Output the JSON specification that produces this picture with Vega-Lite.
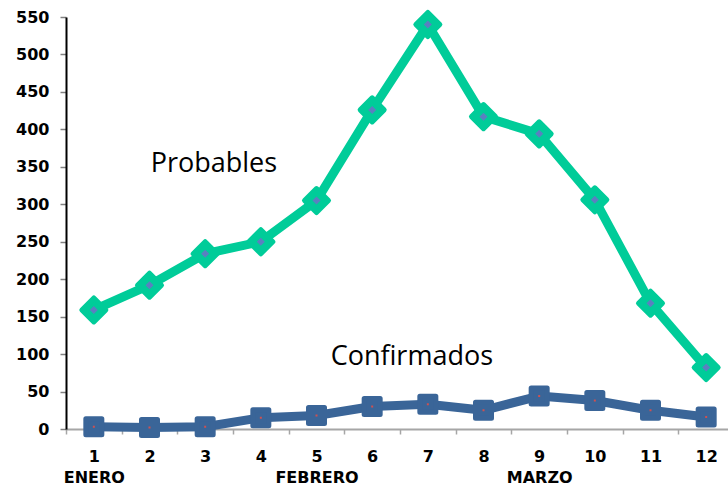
{
  "$schema": "https://vega.github.io/schema/vega-lite/v6.json",
  "width": 662,
  "height": 412,
  "autosize": "none",
  "padding": {"left": 66, "top": 17, "right": 0, "bottom": 56},
  "background": "white",
  "config": {"view": {"stroke": null}},
  "data": {
    "values": [
      {"dia": 1, "serie": "Probables", "valor": 159},
      {"dia": 2, "serie": "Probables", "valor": 192},
      {"dia": 3, "serie": "Probables", "valor": 234},
      {"dia": 4, "serie": "Probables", "valor": 250},
      {"dia": 5, "serie": "Probables", "valor": 305},
      {"dia": 6, "serie": "Probables", "valor": 426},
      {"dia": 7, "serie": "Probables", "valor": 540},
      {"dia": 8, "serie": "Probables", "valor": 417},
      {"dia": 9, "serie": "Probables", "valor": 394},
      {"dia": 10, "serie": "Probables", "valor": 306},
      {"dia": 11, "serie": "Probables", "valor": 168},
      {"dia": 12, "serie": "Probables", "valor": 82},
      {"dia": 1, "serie": "Confirmados", "valor": 3},
      {"dia": 2, "serie": "Confirmados", "valor": 2},
      {"dia": 3, "serie": "Confirmados", "valor": 3},
      {"dia": 4, "serie": "Confirmados", "valor": 15},
      {"dia": 5, "serie": "Confirmados", "valor": 18},
      {"dia": 6, "serie": "Confirmados", "valor": 30},
      {"dia": 7, "serie": "Confirmados", "valor": 33},
      {"dia": 8, "serie": "Confirmados", "valor": 25},
      {"dia": 9, "serie": "Confirmados", "valor": 44},
      {"dia": 10, "serie": "Confirmados", "valor": 38},
      {"dia": 11, "serie": "Confirmados", "valor": 25},
      {"dia": 12, "serie": "Confirmados", "valor": 16}
    ]
  },
  "encoding": {
    "x": {
      "field": "dia",
      "type": "ordinal",
      "scale": {"type": "band", "paddingInner": 0, "paddingOuter": 0, "range": [0, 668]},
      "axis": {
        "title": null,
        "labelAngle": 0,
        "tickBand": "extent",
        "domainColor": "#a6a6a6",
        "domainWidth": 2,
        "tickColor": "#a6a6a6",
        "tickWidth": 1.5,
        "tickSize": 5,
        "labelFont": "DejaVu Sans",
        "labelFontWeight": "bold",
        "labelFontSize": 16,
        "labelColor": "black",
        "labelPadding": 14,
        "labelLineHeight": 21,
        "labelExpr": "datum.value == 1 ? ['1', 'ENERO'] : datum.value == 5 ? ['5', 'FEBRERO'] : datum.value == 9 ? ['9', 'MARZO'] : datum.label"
      }
    },
    "y": {
      "field": "valor",
      "type": "quantitative",
      "scale": {"domain": [0, 550], "nice": false},
      "axis": {
        "title": null,
        "values": [0, 50, 100, 150, 200, 250, 300, 350, 400, 450, 500, 550],
        "grid": false,
        "domainColor": "black",
        "domainWidth": 2,
        "tickColor": "#808080",
        "tickWidth": 1.5,
        "tickSize": 6,
        "labelFont": "DejaVu Sans",
        "labelFontWeight": "bold",
        "labelFontSize": 16,
        "labelColor": "black",
        "labelPadding": 11
      }
    }
  },
  "layer": [
    {
      "transform": [{"filter": "datum.serie == 'Probables'"}],
      "mark": {"type": "line", "color": "#00CC99", "strokeWidth": 9, "strokeJoin": "round"}
    },
    {
      "transform": [{"filter": "datum.serie == 'Probables'"}],
      "mark": {"type": "point", "shape": "diamond", "filled": true, "size": 576, "color": "#00CC99", "stroke": "#00CC99", "strokeWidth": 5, "strokeJoin": "round", "opacity": 1}
    },
    {
      "transform": [{"filter": "datum.serie == 'Probables'"}],
      "mark": {"type": "point", "shape": "diamond", "filled": true, "size": 64, "color": "#5A80C0", "opacity": 1}
    },
    {
      "transform": [{"filter": "datum.serie == 'Confirmados'"}],
      "mark": {"type": "line", "color": "#3A6598", "strokeWidth": 9, "strokeJoin": "round"}
    },
    {
      "transform": [{"filter": "datum.serie == 'Confirmados'"}],
      "mark": {"type": "point", "shape": "square", "filled": true, "size": 256, "color": "#3A6598", "stroke": "#3A6598", "strokeWidth": 5, "strokeJoin": "round", "opacity": 1}
    },
    {
      "transform": [{"filter": "datum.serie == 'Confirmados'"}],
      "mark": {"type": "point", "shape": "square", "filled": true, "size": 4, "color": "#D05050", "opacity": 1}
    },
    {
      "data": {
        "values": [
          {"dia": 2, "valor": 343, "texto": "Probables", "desplaza": 29},
          {"dia": 5, "valor": 85, "texto": "Confirmados", "desplaza": 42}
        ]
      },
      "mark": {"type": "text", "align": "left", "baseline": "alphabetic", "font": "Open Sans", "fontSize": 27, "color": "black"},
      "encoding": {
        "text": {"field": "texto"},
        "x": {"field": "dia", "type": "ordinal"},
        "xOffset": {"field": "desplaza", "type": "quantitative", "scale": null},
        "y": {"field": "valor", "type": "quantitative"}
      }
    }
  ]
}
